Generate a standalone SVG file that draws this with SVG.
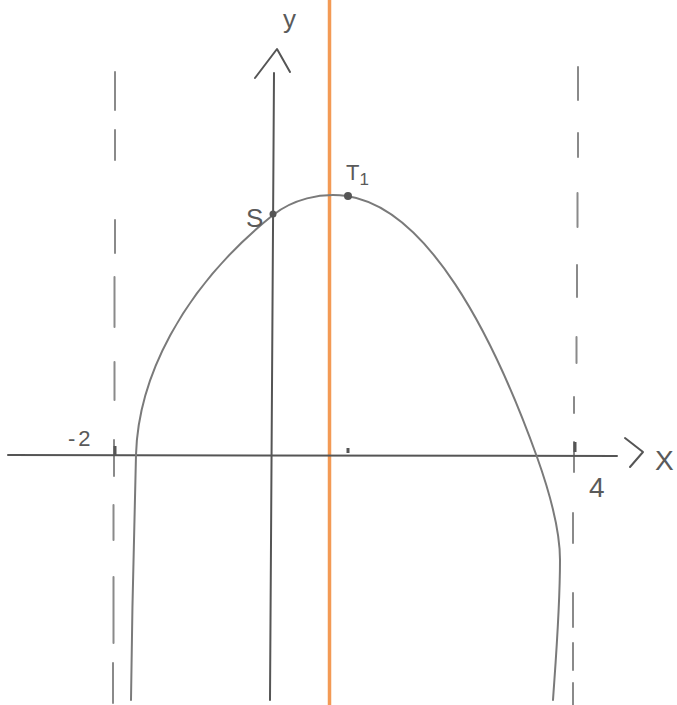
<svg xmlns="http://www.w3.org/2000/svg" width="677" height="705" viewBox="0 0 677 705">
<style>
.ax{stroke:#555;stroke-width:2;fill:none;stroke-linecap:round;stroke-linejoin:round}
.cv{stroke:#7a7a7a;stroke-width:2;fill:none;stroke-linecap:round;stroke-linejoin:round}
.ds{stroke:#8a8a8a;stroke-width:2;fill:none;stroke-linecap:round}
.tk{stroke:#555;stroke-width:3;fill:none}
.lb{font-family:"Liberation Sans",Arial,sans-serif;fill:#5a5a5a}
.pt{fill:#555}
</style>
<rect width="677" height="705" fill="#ffffff"/>
<g id="asymptote-left">
<line class="ds" x1="115" y1="72" x2="115" y2="110"/>
<line class="ds" x1="115" y1="130" x2="115" y2="160"/>
<line class="ds" x1="115" y1="220" x2="115" y2="253"/>
<line class="ds" x1="114.5" y1="277" x2="114.5" y2="327"/>
<line class="ds" x1="114.5" y1="362" x2="114.5" y2="400"/>
<line class="ds" x1="114" y1="440" x2="114" y2="476"/>
<line class="ds" x1="113.5" y1="505" x2="113.5" y2="540"/>
<line class="ds" x1="113.5" y1="577" x2="113.5" y2="643"/>
<line class="ds" x1="113" y1="663" x2="113" y2="703"/>
<line class="tk" x1="115" y1="446" x2="115" y2="456"/>
</g>
<g id="asymptote-right">
<line class="ds" x1="578" y1="67" x2="578" y2="100"/>
<line class="ds" x1="578" y1="133" x2="578" y2="157"/>
<line class="ds" x1="577.5" y1="193" x2="577.5" y2="227"/>
<line class="ds" x1="577" y1="265" x2="577" y2="297"/>
<line class="ds" x1="576.5" y1="337" x2="576.5" y2="363"/>
<line class="ds" x1="574" y1="397" x2="574" y2="413"/>
<line class="ds" x1="574" y1="442" x2="574" y2="472"/>
<line class="ds" x1="573" y1="513" x2="573" y2="543"/>
<line class="ds" x1="573" y1="593" x2="573" y2="627"/>
<line class="ds" x1="573" y1="643" x2="573" y2="670"/>
<line class="ds" x1="573" y1="683" x2="573" y2="705"/>
<line class="tk" x1="575" y1="442" x2="575" y2="452"/>
</g>
<g id="orange-line">
<line x1="329.5" y1="0" x2="329.5" y2="705" stroke="#F39A55" stroke-width="3.5"/>
</g>
<g id="x-axis">
<line class="ax" x1="8" y1="455" x2="617" y2="456"/>
<polyline class="ax" points="625,438 643,452 630,467"/>
<line class="tk" x1="348" y1="448" x2="348" y2="453"/>
<text class="lb" x="68" y="446" font-size="22" letter-spacing="3">-2</text>
<text class="lb" x="589" y="497" font-size="28">4</text>
<text class="lb" x="655" y="470" font-size="28">X</text>
</g>
<g id="y-axis">
<line class="ax" x1="274" y1="73" x2="270" y2="700"/>
<polyline class="ax" points="255,78 277,49 290,72"/>
<text class="lb" x="283" y="28" font-size="26">y</text>
</g>
<g id="curve">
<path class="cv" d="M131,700 C132,620 134,520 136,455 C138,380 180,290 273,215 C292,200 320,192 347,196 C427,208 492,332 537,457 C547,485 560,525 560,560 C560,610 555,670 553,700"/>
</g>
<g id="point-S">
<circle class="pt" cx="273" cy="214" r="3.5"/>
<text class="lb" x="246" y="227" font-size="26">S</text>
</g>
<g id="point-T1">
<circle class="pt" cx="348" cy="196" r="4"/>
<text class="lb" x="346" y="180" font-size="22">T<tspan font-size="17" dy="5">1</tspan></text>
</g>
</svg>
